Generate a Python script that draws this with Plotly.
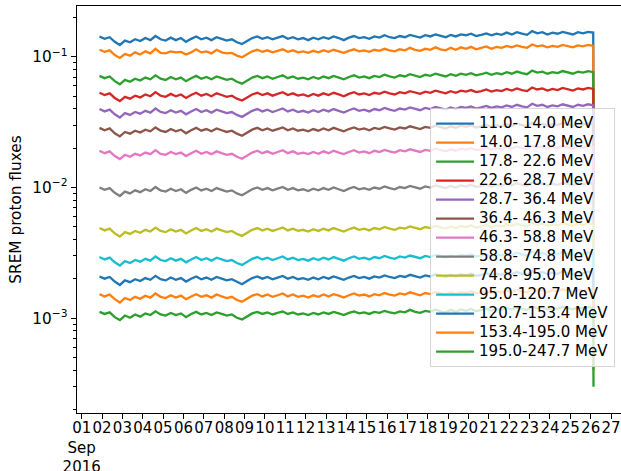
import pandas as pd
import plotly.graph_objects as go

# ---- data ----
TIMES = list(pd.date_range("2016-09-01 21:00", periods=98, freq="6h")) + [pd.Timestamp("2016-09-26 03:20")]

LABELS = ["11.0- 14.0 MeV", "14.0- 17.8 MeV", "17.8- 22.6 MeV", "22.6- 28.7 MeV",
          "28.7- 36.4 MeV", "36.4- 46.3 MeV", "46.3- 58.8 MeV", "58.8- 74.8 MeV",
          "74.8- 95.0 MeV", "95.0-120.7 MeV", "120.7-153.4 MeV", "153.4-195.0 MeV",
          "195.0-247.7 MeV"]

F01 = [.143,.137,.141,.130,.123,.133,.129,.136,.132,.139,
       .134,.144,.136,.133,.140,.134,.139,.130,.137,.143,
       .136,.140,.134,.141,.137,.133,.136,.129,.125,.132,
       .139,.143,.137,.141,.136,.140,.144,.137,.141,.136,
       .139,.134,.140,.136,.141,.137,.143,.139,.134,.140,
       .144,.139,.141,.137,.143,.140,.146,.141,.139,.144,
       .141,.147,.143,.140,.146,.143,.148,.144,.141,.147,
       .143,.148,.146,.150,.144,.147,.151,.146,.150,.147,
       .153,.148,.154,.150,.147,.157,.151,.154,.148,.153,
       .150,.155,.151,.148,.154,.151,.155,.153,.038]
F02 = [.113,.109,.112,.103,.098,.105,.102,.108,.104,.110,
       .106,.115,.107,.106,.110,.108,.109,.104,.108,.114,
       .108,.110,.106,.113,.108,.106,.107,.102,.099,.105,
       .110,.113,.109,.112,.108,.111,.114,.109,.112,.108,
       .110,.107,.111,.108,.112,.109,.113,.110,.107,.111,
       .114,.110,.112,.109,.113,.111,.115,.112,.110,.114,
       .112,.117,.113,.111,.115,.113,.118,.114,.112,.117,
       .113,.118,.115,.119,.114,.117,.120,.115,.119,.117,
       .121,.118,.122,.119,.117,.124,.120,.122,.118,.121,
       .119,.123,.120,.118,.122,.120,.123,.121,.030]
F03 = [.0714,.0686,.0707,.0651,.0616,.0665,.0644,.0679,.0658,.0693,
       .0672,.0721,.0679,.0665,.0700,.0672,.0693,.0651,.0686,.0714,
       .0679,.0700,.0672,.0707,.0686,.0665,.0679,.0644,.0623,.0658,
       .0693,.0714,.0686,.0707,.0679,.0700,.0721,.0686,.0707,.0679,
       .0693,.0672,.0700,.0679,.0707,.0686,.0714,.0693,.0672,.0700,
       .0721,.0693,.0707,.0686,.0714,.0700,.0728,.0707,.0693,.0721,
       .0707,.0735,.0714,.0700,.0728,.0714,.0742,.0721,.0707,.0735,
       .0714,.0742,.0728,.0749,.0721,.0735,.0756,.0728,.0749,.0735,
       .0763,.0742,.0770,.0749,.0735,.0784,.0756,.0770,.0742,.0763,
       .0749,.0777,.0756,.0742,.0770,.0756,.0777,.0763,.0189]
F04 = [.0530,.0510,.0525,.0484,.0458,.0494,.0478,.0504,.0489,.0515,
       .0499,.0536,.0504,.0494,.0520,.0499,.0515,.0484,.0510,.0530,
       .0504,.0520,.0499,.0525,.0510,.0494,.0504,.0478,.0463,.0489,
       .0515,.0530,.0510,.0525,.0504,.0520,.0536,.0510,.0525,.0504,
       .0515,.0499,.0520,.0504,.0525,.0510,.0530,.0515,.0499,.0520,
       .0536,.0515,.0525,.0510,.0530,.0520,.0541,.0525,.0515,.0536,
       .0525,.0546,.0530,.0520,.0541,.0530,.0551,.0536,.0525,.0546,
       .0530,.0551,.0541,.0556,.0536,.0546,.0562,.0541,.0556,.0546,
       .0567,.0551,.0572,.0556,.0546,.0582,.0562,.0572,.0551,.0567,
       .0556,.0577,.0562,.0551,.0572,.0562,.0577,.0567,.0140]
F05 = [.0398,.0382,.0394,.0363,.0343,.0371,.0359,.0378,.0367,.0386,
       .0374,.0402,.0378,.0371,.0390,.0374,.0386,.0363,.0382,.0398,
       .0378,.0390,.0374,.0394,.0382,.0371,.0378,.0359,.0347,.0367,
       .0386,.0398,.0382,.0394,.0378,.0390,.0402,.0382,.0394,.0378,
       .0386,.0374,.0390,.0378,.0394,.0382,.0398,.0386,.0374,.0390,
       .0402,.0386,.0394,.0382,.0398,.0390,.0406,.0394,.0386,.0402,
       .0394,.0410,.0398,.0390,.0406,.0398,.0413,.0402,.0394,.0410,
       .0398,.0413,.0406,.0417,.0402,.0410,.0421,.0406,.0417,.0410,
       .0425,.0413,.0429,.0417,.0410,.0437,.0421,.0429,.0413,.0425,
       .0417,.0433,.0421,.0413,.0429,.0421,.0433,.0425,.0105]
F06 = [.0286,.0274,.0283,.0260,.0246,.0266,.0258,.0272,.0263,.0277,
       .0269,.0288,.0272,.0266,.0280,.0269,.0277,.0260,.0274,.0286,
       .0272,.0280,.0269,.0283,.0274,.0266,.0272,.0258,.0249,.0263,
       .0277,.0286,.0274,.0283,.0272,.0280,.0288,.0274,.0283,.0272,
       .0277,.0269,.0280,.0272,.0283,.0274,.0286,.0277,.0269,.0280,
       .0288,.0277,.0283,.0274,.0286,.0280,.0291,.0283,.0277,.0288,
       .0283,.0294,.0286,.0280,.0291,.0286,.0297,.0288,.0283,.0294,
       .0286,.0297,.0291,.0300,.0288,.0294,.0302,.0291,.0300,.0294,
       .0305,.0297,.0308,.0300,.0294,.0314,.0302,.0308,.0297,.0305,
       .0300,.0311,.0302,.0297,.0308,.0302,.0311,.0305,.0076]
F07 = [.0191,.0183,.0189,.0174,.0165,.0178,.0172,.0181,.0176,.0185,
       .0180,.0193,.0181,.0178,.0187,.0180,.0185,.0174,.0183,.0191,
       .0181,.0187,.0180,.0189,.0183,.0178,.0181,.0172,.0166,.0176,
       .0185,.0191,.0183,.0189,.0181,.0187,.0193,.0183,.0189,.0181,
       .0185,.0180,.0187,.0181,.0189,.0183,.0191,.0185,.0180,.0187,
       .0193,.0185,.0189,.0183,.0191,.0187,.0194,.0189,.0185,.0193,
       .0189,.0196,.0191,.0187,.0194,.0191,.0198,.0193,.0189,.0196,
       .0191,.0198,.0194,.0200,.0193,.0196,.0202,.0194,.0200,.0196,
       .0204,.0198,.0206,.0200,.0196,.0209,.0202,.0206,.0198,.0204,
       .0200,.0208,.0202,.0198,.0206,.0202,.0208,.0204,.0050]
F08 = [.01000,.00960,.00990,.00911,.00862,.00931,.00902,.00951,.00921,.00970,
       .00941,.01009,.00951,.00931,.00980,.00941,.00970,.00911,.00960,.01000,
       .00951,.00980,.00941,.00990,.00960,.00931,.00951,.00902,.00872,.00921,
       .00970,.01000,.00960,.00990,.00951,.00980,.01009,.00960,.00990,.00951,
       .00970,.00941,.00980,.00951,.00990,.00960,.01000,.00970,.00941,.00980,
       .01009,.00970,.00990,.00960,.01000,.00980,.01019,.00990,.00970,.01009,
       .00990,.01029,.01000,.00980,.01019,.01000,.01039,.01009,.00990,.01029,
       .01000,.01039,.01019,.01049,.01009,.01029,.01058,.01019,.01049,.01029,
       .01068,.01039,.01078,.01049,.01029,.01098,.01058,.01078,.01039,.01068,
       .01049,.01088,.01058,.01039,.01078,.01058,.01088,.01068,.00265]
F09 = [.00490,.00470,.00485,.00446,.00422,.00456,.00442,.00466,.00451,.00475,
       .00461,.00494,.00466,.00456,.00480,.00461,.00475,.00446,.00470,.00490,
       .00466,.00480,.00461,.00485,.00470,.00456,.00466,.00442,.00427,.00451,
       .00475,.00490,.00470,.00485,.00466,.00480,.00494,.00470,.00485,.00466,
       .00475,.00461,.00480,.00466,.00485,.00470,.00490,.00475,.00461,.00480,
       .00494,.00475,.00485,.00470,.00490,.00480,.00499,.00485,.00475,.00494,
       .00485,.00504,.00490,.00480,.00499,.00490,.00509,.00494,.00485,.00504,
       .00490,.00509,.00499,.00514,.00494,.00504,.00518,.00499,.00514,.00504,
       .00523,.00509,.00528,.00514,.00504,.00538,.00518,.00528,.00509,.00523,
       .00514,.00533,.00518,.00509,.00528,.00518,.00533,.00523,.00130]
F10 = [.00294,.00282,.00291,.00268,.00253,.00274,.00265,.00279,.00271,.00285,
       .00276,.00297,.00279,.00274,.00288,.00276,.00285,.00268,.00282,.00294,
       .00279,.00288,.00276,.00291,.00282,.00274,.00279,.00265,.00256,.00271,
       .00285,.00294,.00282,.00291,.00279,.00288,.00297,.00282,.00291,.00279,
       .00285,.00276,.00288,.00279,.00291,.00282,.00294,.00285,.00276,.00288,
       .00297,.00285,.00291,.00282,.00294,.00288,.00300,.00291,.00285,.00297,
       .00291,.00302,.00294,.00288,.00300,.00294,.00305,.00297,.00291,.00302,
       .00294,.00305,.00300,.00308,.00297,.00302,.00311,.00300,.00308,.00302,
       .00314,.00305,.00317,.00308,.00302,.00323,.00311,.00317,.00305,.00314,
       .00308,.00320,.00311,.00305,.00317,.00311,.00320,.00314,.00078]
F11 = [.00209,.00201,.00207,.00191,.00180,.00195,.00189,.00199,.00193,.00203,
       .00197,.00211,.00199,.00195,.00205,.00197,.00203,.00191,.00201,.00209,
       .00199,.00205,.00197,.00207,.00201,.00195,.00199,.00189,.00182,.00193,
       .00203,.00209,.00201,.00207,.00199,.00205,.00211,.00201,.00207,.00199,
       .00203,.00197,.00205,.00199,.00207,.00201,.00209,.00203,.00197,.00205,
       .00211,.00203,.00207,.00201,.00209,.00205,.00213,.00207,.00203,.00211,
       .00207,.00215,.00209,.00205,.00213,.00209,.00217,.00211,.00207,.00215,
       .00209,.00217,.00213,.00219,.00211,.00215,.00221,.00213,.00219,.00215,
       .00223,.00217,.00226,.00219,.00215,.00230,.00221,.00226,.00217,.00223,
       .00219,.00228,.00221,.00217,.00226,.00221,.00228,.00223,.00055]
F12 = [.00153,.00147,.00152,.00140,.00132,.00143,.00138,.00146,.00141,.00149,
       .00144,.00155,.00146,.00143,.00150,.00144,.00149,.00140,.00147,.00153,
       .00146,.00150,.00144,.00152,.00147,.00143,.00146,.00138,.00134,.00141,
       .00149,.00153,.00147,.00152,.00146,.00150,.00155,.00147,.00152,.00146,
       .00149,.00144,.00150,.00146,.00152,.00147,.00153,.00149,.00144,.00150,
       .00155,.00149,.00152,.00147,.00153,.00150,.00156,.00152,.00149,.00155,
       .00152,.00158,.00153,.00150,.00156,.00153,.00159,.00155,.00152,.00158,
       .00153,.00159,.00156,.00161,.00155,.00158,.00162,.00156,.00161,.00158,
       .00164,.00159,.00165,.00161,.00158,.00168,.00162,.00165,.00159,.00164,
       .00161,.00167,.00162,.00159,.00165,.00162,.00167,.00164,.00040]
F13 = [.00112,.00108,.00111,.00102,.00097,.00105,.00101,.00107,.00103,.00109,
       .00106,.00113,.00107,.00105,.00110,.00106,.00109,.00102,.00108,.00112,
       .00107,.00110,.00106,.00111,.00108,.00105,.00107,.00101,.00098,.00103,
       .00109,.00112,.00108,.00111,.00107,.00110,.00113,.00108,.00111,.00107,
       .00109,.00106,.00110,.00107,.00111,.00108,.00112,.00109,.00106,.00110,
       .00113,.00109,.00111,.00108,.00112,.00110,.00114,.00111,.00109,.00113,
       .00111,.00116,.00112,.00110,.00114,.00112,.00117,.00113,.00111,.00116,
       .00112,.00117,.00114,.00118,.00113,.00116,.00119,.00114,.00118,.00116,
       .00120,.00117,.00121,.00118,.00116,.00123,.00119,.00121,.00117,.00120,
       .00118,.00122,.00119,.00117,.00121,.00119,.00122,.00120,.00030]

SERIES = [F01, F02, F03, F04, F05, F06, F07, F08, F09, F10, F11, F12, F13]

DAY_TICKS = pd.date_range("2016-09-01", "2016-09-27", freq="D")
DAY_TEXT = ["01<br>Sep<br>2016"] + [f"{d.day:02d}" for d in DAY_TICKS[1:]]

Y_TICKS = [1e-3, 1e-2, 1e-1]
Y_TEXT = ["10<sup>−3</sup>", "10<sup>−2</sup>", "10<sup>−1</sup>"]
Y_MINOR = [m * 10.0 ** e for e in (-4, -3, -2, -1) for m in range(2, 10)]

COLORS = ["#1f77b4", "#ff7f0e", "#2ca02c", "#d62728", "#9467bd", "#8c564b",
          "#e377c2", "#7f7f7f", "#bcbd22", "#17becf", "#1f77b4", "#ff7f0e", "#2ca02c"]

FONT = "DejaVu Sans"
FS = 15.3
LEG_FS = 15.0

fig = go.Figure()
for lab, ys, col in zip(LABELS, SERIES, COLORS):
    fig.add_trace(go.Scatter(
        x=TIMES, y=ys, mode="lines",
        name=f'<span style="font-size:{LEG_FS}px">{lab}</span>',
        line=dict(color=col, width=2.3), hoverinfo="skip"))

fig.update_layout(
    width=621, height=471,
    margin=dict(l=77, r=0, t=6, b=58, autoexpand=False),
    paper_bgcolor="white", plot_bgcolor="white",
    font=dict(family=FONT, size=FS, color="black"),
    showlegend=True,
    legend=dict(x=0.649, y=0.749, xanchor="left", yanchor="top",
                bgcolor="rgba(255,255,255,0.8)", bordercolor="rgba(204,204,204,0.8)",
                borderwidth=1, font=dict(family=FONT, size=12.1, color="black"),
                tracegroupgap=0, itemwidth=38),
)
fig.update_xaxes(
    type="date", range=["2016-08-31 18:29", "2016-09-27 11:45"],
    tickmode="array", tickvals=list(DAY_TICKS), ticktext=DAY_TEXT,
    ticks="outside", ticklen=5.3, tickwidth=1.2, tickcolor="black",
    showline=True, linecolor="black", linewidth=1.2, mirror=True,
    showgrid=False, zeroline=False, tickangle=0,
    tickfont=dict(family=FONT, size=15.0, color="black"),
)
try:
    fig.update_xaxes(ticklabelstandoff=-4)
except Exception:
    pass
fig.update_yaxes(
    type="log", range=[-3.724, -0.612],
    tickmode="array", tickvals=Y_TICKS, ticktext=Y_TEXT,
    ticks="outside", ticklen=5.3, tickwidth=1.2, tickcolor="black",
    minor=dict(tickmode="array", tickvals=Y_MINOR, ticks="outside", ticklen=3,
               tickwidth=0.9, tickcolor="black", showgrid=False),
    showline=True, linecolor="black", linewidth=1.2, mirror=False,
    showgrid=False, zeroline=False,
    title=dict(text="SREM proton fluxes", font=dict(family=FONT, size=FS), standoff=6),
    tickfont=dict(family=FONT, size=FS, color="black"),
)

fig.write_html("out.html", config={"displayModeBar": False},
               post_script="document.body.style.margin='0px';document.body.style.padding='0px';")
